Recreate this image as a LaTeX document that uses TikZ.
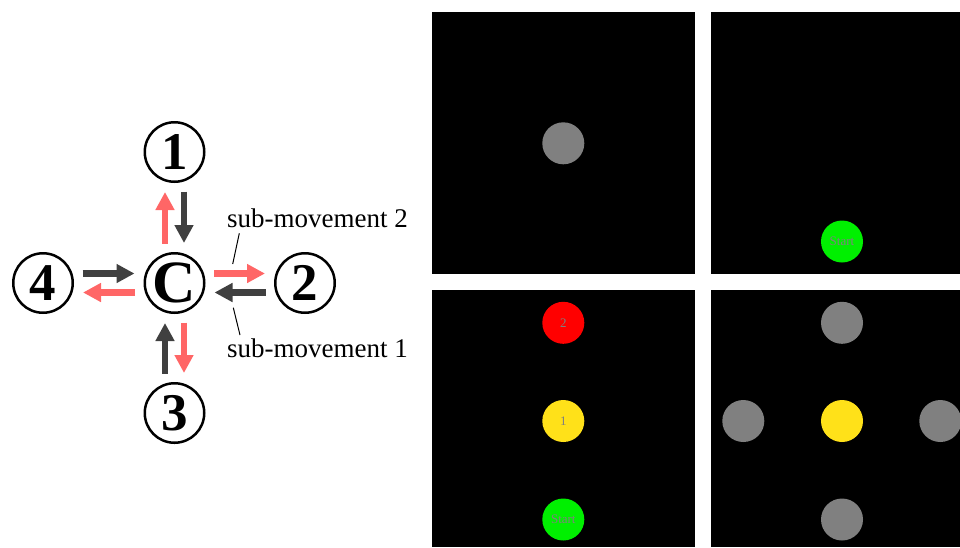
\documentclass[tikz,border=0pt]{standalone}
\usepackage{fontspec}
\setmainfont{Liberation Serif}
\usetikzlibrary{arrows.meta,calc}
\newcommand{\Ring}{59.5pt}
\newcommand{\Dot}{42pt}
\definecolor{mvred}{RGB}{255,102,102}
\definecolor{mvgray}{RGB}{64,64,64}
\definecolor{dotgray}{RGB}{128,128,128}
\definecolor{dotyellow}{RGB}{255,225,25}
\definecolor{dotgreen}{RGB}{0,240,0}
\tikzset{Station/.style={
    circle,
    inner sep=0pt,
    minimum size=\Ring,
    draw=black,
    line width=2.5pt,
    font=\fontsize{53}{53}\selectfont\bfseries,
    }
}
\tikzset{Target/.style={
    circle,
    inner sep=0pt,
    minimum size=\Dot,
    text=dotgray,
    font=\fontsize{13}{13}\selectfont,
    }
}

\begin{document}
\begin{tikzpicture}[x=1pt, y=-1pt,
    mv/.style={line width=6.5pt, -{Triangle[length=18pt,width=18pt]},
      shorten <=8.5pt, shorten >=9pt},
    mv1/.style={mv, draw=mvgray},
    mv2/.style={mv, draw=mvred},
    Label/.style={inner sep=0pt, anchor=base west, font=\fontsize{27}{27}\selectfont},
    leader/.style={line width=1pt},
]
\useasboundingbox (0,0) rectangle (960,547);
% stations
\node [Station] (C)  at (174.5,283) {\fontsize{60}{60}\selectfont C};
\node [Station] (n1) at (174.5,152) {1};
\node [Station] (n2) at (305,283) {2};
\node [Station] (n3) at (174.5,413) {3};
\node [Station] (n4) at (43,283) {4};
% sub-movement 1 (towards C) and sub-movement 2 (away from C)
\draw [mv2] ([xshift=-9.5pt]C.north) -- ([xshift=-9.5pt]n1.south);
\draw [mv1] ([xshift=9.5pt]n1.south) -- ([xshift=9.5pt]C.north);
\draw [mv2] ([yshift=9.5pt]C.east) -- ([yshift=9.5pt]n2.west);
\draw [mv1] ([yshift=-9.5pt]n2.west) -- ([yshift=-9.5pt]C.east);
\draw [mv1] ([yshift=9.5pt]n4.east) -- ([yshift=9.5pt]C.west);
\draw [mv2] ([yshift=-9.5pt]C.west) -- ([yshift=-9.5pt]n4.east);
\draw [mv1] ([xshift=-9.5pt]n3.north) -- ([xshift=-9.5pt]C.south);
\draw [mv2] ([xshift=9.5pt]C.south) -- ([xshift=9.5pt]n3.north);
% labels
\node [Label] (lab2) at (227,227) {sub-movement 2};
\node [Label] (lab1) at (227,357.5) {sub-movement 1};
\coordinate (m2) at (232.7,264);
\coordinate (m1) at (233.3,307.7);
\draw [leader] ($(lab2.base west)+(12.3,6.3)$) -- (m2);
\draw [leader] (m1) -- ($(lab1.base west)+(13,-22.5)$);
% screens
\fill [black] (432,12) rectangle (695,274);
\fill [black] (710.7,12) rectangle (960,274);
\fill [black] (432,290) rectangle (695,547);
\fill [black] (710.7,290) rectangle (960,547);
% screen 1
\node [Target, fill=dotgray] (a1) at (563.3,143.3) {};
% screen 2
\node [Target, fill=dotgreen] (b0) at (842,241.5) {Start};
% screen 3
\node [Target, fill=red] (c2) at (563.3,322.8) {2};
\node [Target, fill=dotyellow] (c1) at (563.3,421) {1};
\node [Target, fill=dotgreen] (c0) at (563.3,519.5) {Start};
% screen 4
\node [Target, fill=dotyellow] (d0) at (842,421) {};
\node [Target, fill=dotgray] (d1) at (842,322.8) {};
\node [Target, fill=dotgray] (d2) at (940.3,421) {};
\node [Target, fill=dotgray] (d3) at (842,519.5) {};
\node [Target, fill=dotgray] (d4) at (743.3,421) {};
\end{tikzpicture}
\end{document}
